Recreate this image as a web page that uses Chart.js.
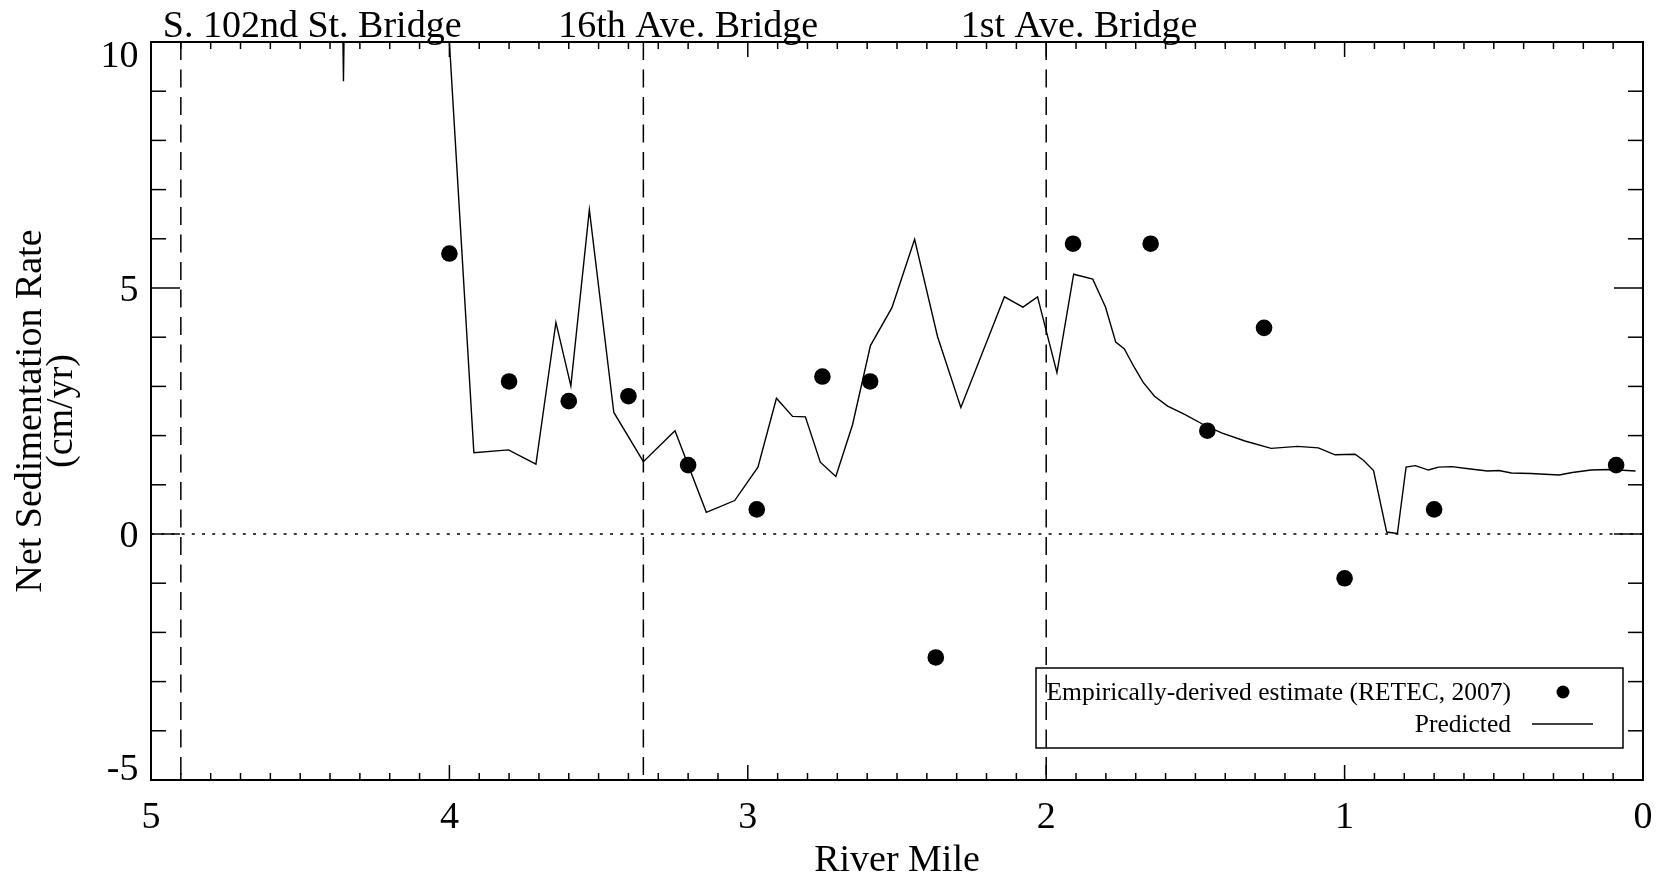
<!DOCTYPE html>
<html>
<head>
<meta charset="utf-8">
<title>Net Sedimentation Rate</title>
<script src="https://cdn.jsdelivr.net/npm/chart.js@4.4.0/dist/chart.umd.min.js"></script>
<style>
  html, body { margin: 0; padding: 0; background: #fff; }
  #wrap { width: 1669px; height: 874px; position: relative; }
</style>
</head>
<body>
<div id="wrap"><canvas id="sedChart"></canvas></div>
<script>
// Predicted net sedimentation rate (cm/yr) by river mile
const predMile = [4.36, 4.355, 4.35, 4.003, 3.918, 3.802, 3.710, 3.643, 3.593, 3.531,
    3.449, 3.350, 3.244, 3.139, 3.044, 2.966, 2.904, 2.850, 2.807, 2.757,
    2.705, 2.649, 2.589, 2.517, 2.441, 2.364, 2.286, 2.140, 2.078, 2.029,
    1.964, 1.908, 1.844, 1.801, 1.767, 1.738, 1.706, 1.675, 1.637, 1.593,
    1.536, 1.460, 1.410, 1.334, 1.246, 1.158, 1.088, 1.032, 0.965, 0.937,
    0.903, 0.859, 0.823, 0.794, 0.763, 0.719, 0.685, 0.641, 0.578, 0.521,
    0.483, 0.441, 0.376, 0.281, 0.237, 0.174, 0.111, 0.025];
const predRate = [11.5, 9.2, 11.5, 10.3, 1.65, 1.71, 1.42, 4.30, 3.01, 6.59,
    2.47, 1.47, 2.10, 0.44, 0.68, 1.36, 2.76, 2.39, 2.38, 1.46,
    1.17, 2.22, 3.83, 4.60, 5.99, 4.01, 2.57, 4.82, 4.61, 4.82,
    3.28, 5.28, 5.18, 4.61, 3.90, 3.76, 3.40, 3.08, 2.80, 2.60,
    2.43, 2.18, 2.05, 1.89, 1.74, 1.78, 1.75, 1.61, 1.62, 1.50,
    1.29, 0.04, 0.01, 1.36, 1.39, 1.30, 1.36, 1.37, 1.32, 1.28,
    1.29, 1.24, 1.23, 1.20, 1.25, 1.30, 1.31, 1.28];

// Empirically-derived estimates (RETEC, 2007)
const obsMile = [4.00, 3.80, 3.60, 3.40, 3.20, 2.97, 2.75, 2.59, 2.37, 1.91, 1.65, 1.46, 1.27, 1.00, 0.70, 0.09];
const obsRate = [5.70, 3.10, 2.70, 2.80, 1.40, 0.50, 3.20, 3.10, -2.51, 5.90, 5.90, 2.10, 4.19, -0.90, 0.50, 1.40];

// Bridges crossing the waterway
const bridgeNames = ['S. 102nd St. Bridge', '16th Ave. Bridge', '1st Ave. Bridge'];
const bridgeMile = [4.90, 3.35, 2.00];

const xTickValues = [5, 4, 3, 2, 1, 0];
const yTickValues = [-5, 0, 5, 10];

// layout
const FONT = "'Liberation Serif', 'Times New Roman', serif";
const bridgeLabelMile = [4.46, 3.20, 1.89];   // centre of each bridge name

const toPoints = (xs, ys) => xs.map((v, i) => ({ x: v, y: ys[i] }));

function line(ctx, x1, y1, x2, y2) {
    ctx.beginPath();
    ctx.moveTo(x1, y1);
    ctx.lineTo(x2, y2);
    ctx.stroke();
}

// Dashed bridge markers and dotted zero line go under the data,
// the frame, ticks, labels and legend go on top.
const framePlugin = {
    id: 'frame',
    beforeDatasetsDraw(chart) {
        const { ctx, chartArea: a, scales: { x, y } } = chart;
        ctx.save();
        ctx.strokeStyle = '#000';
        ctx.lineWidth = 1.5;
        ctx.setLineDash([18, 9.5]);
        bridgeMile.forEach(m => {
            const px = x.getPixelForValue(m);
            line(ctx, px, a.top, px, a.bottom);
        });
        ctx.setLineDash([3, 7.2]);
        const y0 = y.getPixelForValue(0);
        line(ctx, a.left, y0, a.right, y0);
        ctx.restore();
    },
    afterDatasetsDraw(chart) {
        const { ctx, chartArea: a, scales: { x, y } } = chart;
        ctx.save();
        ctx.strokeStyle = '#000';
        ctx.fillStyle = '#000';

        // box
        ctx.lineWidth = 2;
        ctx.strokeRect(a.left, a.top, a.right - a.left, a.bottom - a.top);

        // x ticks every 0.1 mile, top and bottom, pointing in
        ctx.lineWidth = 1.5;
        for (let i = 0; i <= 50; i++) {
            const px = x.getPixelForValue(i / 10);
            const len = i % 10 === 0 ? 15 : 7;
            line(ctx, px, a.bottom, px, a.bottom - len);
            line(ctx, px, a.top, px, a.top + len);
        }
        // y ticks every 1 cm/yr, left and right
        for (let v = -5; v <= 10; v++) {
            const py = y.getPixelForValue(v);
            const len = v % 5 === 0 ? 29 : 15;
            line(ctx, a.left, py, a.left + len, py);
            line(ctx, a.right, py, a.right - len, py);
        }

        ctx.font = `38px ${FONT}`;
        ctx.textBaseline = 'alphabetic';

        // tick labels
        ctx.textAlign = 'center';
        xTickValues.forEach(v => {
            ctx.fillText(String(v), x.getPixelForValue(v), 828);
        });
        const digitH = 25;
        ctx.textAlign = 'right';
        yTickValues.forEach(v => {
            let base = y.getPixelForValue(v) + digitH / 2;
            base = Math.max(a.top + digitH, Math.min(a.bottom, base));
            ctx.fillText(String(v), a.left - 12.5, base);
        });

        // axis titles
        ctx.textAlign = 'center';
        ctx.fillText('River Mile', (a.left + a.right) / 2, 871);
        ctx.save();
        ctx.translate(0, (a.top + a.bottom) / 2);
        ctx.rotate(-Math.PI / 2);
        ctx.fillText('Net Sedimentation Rate', 0, 41);
        ctx.fillText('(cm/yr)', 0, 72);
        ctx.restore();

        // bridge names above the plot
        bridgeNames.forEach((name, i) => {
            ctx.fillText(name, x.getPixelForValue(bridgeLabelMile[i]), 37);
        });

        // legend
        ctx.lineWidth = 1.5;
        ctx.strokeRect(1036, 668, 587, 80);
        ctx.font = `25.5px ${FONT}`;
        ctx.textAlign = 'right';
        ctx.fillText('Empirically-derived estimate (RETEC, 2007)', 1511, 700);
        ctx.fillText('Predicted', 1511, 731.5);
        ctx.beginPath();
        ctx.arc(1563, 692, 6.5, 0, Math.PI * 2);
        ctx.fill();
        ctx.lineWidth = 1.3;
        line(ctx, 1532, 724, 1593, 724);

        ctx.restore();
    }
};

const chart = new Chart(document.getElementById('sedChart'), {
    type: 'scatter',
    data: {
        datasets: [
            {
                label: 'Empirically-derived estimate (RETEC, 2007)',
                data: toPoints(obsMile, obsRate),
                showLine: false,
                pointRadius: 8.3,
                pointBackgroundColor: '#000',
                pointBorderColor: '#000',
                pointBorderWidth: 0
            },
            {
                label: 'Predicted',
                data: toPoints(predMile, predRate),
                showLine: true,
                borderColor: '#000',
                borderWidth: 1.4,
                pointRadius: 0,
                tension: 0,
                clip: 0
            }
        ]
    },
    options: {
        responsive: true,
        maintainAspectRatio: false,
        animation: false,
        events: [],
        layout: { padding: { top: 42, right: 26, left: 0, bottom: 0 } },
        plugins: {
            legend: { display: false },
            tooltip: { enabled: false }
        },
        scales: {
            x: {
                type: 'linear',
                min: 0,
                max: 5,
                reverse: true,
                grid: { display: false },
                border: { display: false },
                ticks: { display: false },
                afterFit(scale) { scale.height = 94; }
            },
            y: {
                type: 'linear',
                min: -5,
                max: 10,
                grid: { display: false },
                border: { display: false },
                ticks: { display: false },
                afterFit(scale) { scale.width = 151; }
            }
        }
    },
    plugins: [framePlugin]
});
</script>
</body>
</html>
